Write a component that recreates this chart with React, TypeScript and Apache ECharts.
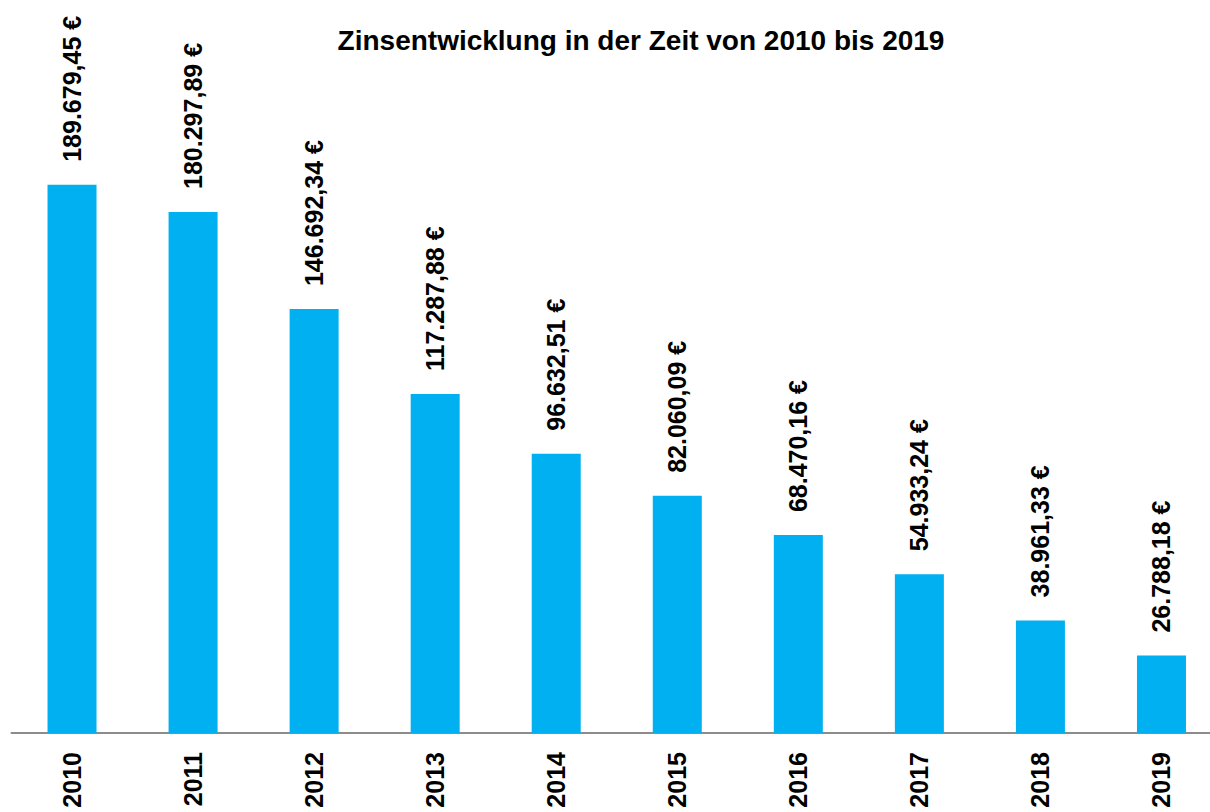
import React, { useEffect, useRef } from "react";
import * as echarts from "echarts";

const years = ["2010", "2011", "2012", "2013", "2014", "2015", "2016", "2017", "2018", "2019"];
const interest = [189679.45, 180297.89, 146692.34, 117287.88, 96632.51, 82060.09, 68470.16, 54933.24, 38961.33, 26788.18];
const titleText = "Zinsentwicklung in der Zeit von 2010 bis 2019";

function formatEuro(v: number): string {
  const fixed = v.toFixed(2);
  const [intPart, dec] = fixed.split(".");
  const withDots = intPart.replace(/\B(?=(\d{3})+(?!\d))/g, ".");
  return withDots + "," + dec + " €";
}

export default function App() {
  const ref = useRef<HTMLDivElement>(null);
  useEffect(() => {
    document.body.style.margin = "0";
    document.body.style.overflow = "hidden";
    const chart = echarts.init(ref.current!, null, { renderer: "svg" });
    chart.setOption({
      animation: false,
      backgroundColor: "#ffffff",
      graphic: [
        {
          type: "text",
          x: 641,
          y: 40,
          style: {
            text: titleText,
            font: "bold 28px 'Liberation Sans', Arial, sans-serif",
            fill: "#000000",
            align: "center",
            verticalAlign: "middle",
          },
        },
      ],
      grid: { left: 11.5, top: 155, right: 0, bottom: 79, containLabel: false },
      xAxis: {
        type: "category",
        data: years,
        axisLine: { show: true, lineStyle: { color: "#8c8c8c", width: 2 } },
        axisTick: { show: false },
        axisLabel: {
          rotate: 90,
          margin: 19,
          color: "#000000",
          fontSize: 25,
          fontWeight: "bold",
          fontFamily: "'Liberation Sans', Arial, sans-serif",
        },
      },
      yAxis: {
        type: "value",
        min: 0,
        max: 200000,
        show: false,
        splitLine: { show: false },
      },
      series: [
        {
          type: "bar",
          data: interest,
          barWidth: 49,
          itemStyle: { color: "#00B0F0" },
          label: {
            show: true,
            position: "top",
            rotate: 90,
            align: "left",
            verticalAlign: "middle",
            distance: 23,
            color: "#000000",
            fontSize: 25,
            fontWeight: "bold",
            fontFamily: "'Liberation Sans', Arial, sans-serif",
            formatter: (p: any) => formatEuro(p.value),
          },
        },
      ],
    });
    return () => chart.dispose();
  }, []);
  return <div ref={ref} style={{ width: 1222, height: 812 }} />;
}
